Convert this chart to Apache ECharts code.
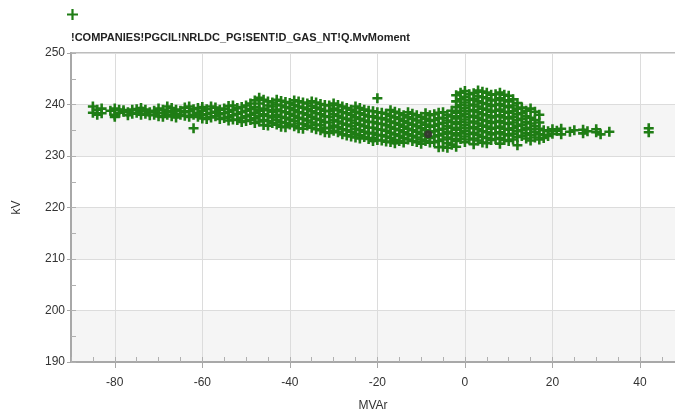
<!DOCTYPE html>
<html><head><meta charset="utf-8">
<script src="https://cdn.jsdelivr.net/npm/echarts@6/dist/echarts.min.js"></script>
<style>html,body{margin:0;padding:0;background:#fff}#c{width:675px;height:417px}</style>
</head><body><div id="c"></div>
<script>
const seriesName = '!COMPANIES!PGCIL!NRLDC_PG!SENT!D_GAS_NT!Q.MvMoment';
const xAxisName = 'MVAr';
const yAxisName = 'kV';
const yTicks = [190, 200, 210, 220, 230, 240, 250];
const xTicks = [-80, -60, -40, -20, 0, 20, 40];
// [MVAr, kV] samples (even columns)
const pointsA = [
[-85,239.6],[-85,238.4],[-84,239.0],[-84,238.0],[-81,238.8],[-80,239.2],[-80,238.0],[-80,237.6],
[-78,238.6],[-78,238.9],[-76,239.0],[-76,238.2],[-74,238.7],[-74,238.0],[-74,239.3],[-72,238.5],[-72,237.9],
[-70,239.2],[-70,238.4],[-70,237.7],[-68,239.6],[-68,238.7],[-68,238.0],[-66,239.0],[-66,238.2],[-66,237.5],
[-64,239.4],[-64,238.5],[-64,237.8],[-62,239.1],[-62,238.0],[-62,235.4],[-60,238.8],[-60,237.9],[-60,237.3],[-60,239.5],
[-58,239.6],[-58,238.4],[-58,237.5],[-56,239.0],[-56,238.1],[-56,237.2],[-54,239.7],[-54,238.6],[-54,237.6],[-54,236.9],
[-52,239.3],[-52,238.2],[-52,237.0],[-50,239.8],[-50,238.8],[-50,237.7],[-50,236.8],
[-48,240.8],[-48,239.5],[-48,238.4],[-48,237.3],[-48,236.4],[-47,241.3],[-47,240.2],
[-46,240.9],[-46,239.2],[-46,238.1],[-46,237.0],[-46,236.0],[-44,240.4],[-44,239.6],[-44,238.6],[-44,237.5],[-44,236.4],
[-42,240.7],[-42,239.8],[-42,238.7],[-42,237.6],[-42,236.6],[-42,235.7],[-40,240.3],[-40,239.3],[-40,238.2],[-40,237.1],[-40,236.1],
[-38,240.6],[-38,239.6],[-38,238.5],[-38,237.4],[-38,236.3],[-38,235.4],[-36,240.2],[-36,239.1],[-36,238.0],[-36,236.9],[-36,235.9],
[-34,240.4],[-34,239.4],[-34,238.3],[-34,237.2],[-34,236.1],[-34,235.2],[-32,239.9],[-32,238.8],[-32,237.7],[-32,236.6],[-32,235.5],[-32,234.6],
[-30,240.2],[-30,239.2],[-30,238.1],[-30,237.0],[-30,235.9],[-30,234.9],[-28,239.6],[-28,238.5],[-28,237.4],[-28,236.3],[-28,235.2],[-28,234.2],
[-26,239.0],[-26,238.0],[-26,236.9],[-26,235.8],[-26,234.7],[-26,233.8],[-24,239.3],[-24,238.3],[-24,237.2],[-24,236.1],[-24,235.0],[-24,234.0],[-24,233.4],
[-22,238.8],[-22,237.7],[-22,236.6],[-22,235.5],[-22,234.4],[-22,233.3],[-20,241.2],[-20,238.5],[-20,237.4],[-20,236.3],[-20,235.2],[-20,234.1],[-20,233.1],
[-18,238.2],[-18,237.1],[-18,236.0],[-18,234.9],[-18,233.8],[-18,232.8],[-16,238.6],[-16,237.5],[-16,236.4],[-16,235.3],[-16,234.2],[-16,233.1],[-16,232.5],
[-14,237.9],[-14,236.8],[-14,235.7],[-14,234.6],[-14,233.5],[-14,232.6],[-12,238.2],[-12,237.2],[-12,236.1],[-12,235.0],[-12,233.9],[-12,232.9],
[-10,237.6],[-10,236.5],[-10,235.4],[-10,234.3],[-10,233.2],[-10,232.4],[-8,237.9],[-8,236.8],[-8,235.7],[-8,234.6],[-8,233.5],[-8,232.6],
[-6,238.4],[-6,237.3],[-6,236.2],[-6,235.1],[-6,234.0],[-6,232.9],[-6,231.7],[-4,238.0],[-4,236.9],[-4,235.8],[-4,234.7],[-4,233.6],[-4,232.5],[-4,231.6],
[-2,241.8],[-2,240.6],[-2,239.5],[-2,238.4],[-2,237.3],[-2,236.2],[-2,235.1],[-2,234.0],[-2,232.9],[-2,231.8],
[-1,242.3],[-1,241.0],[-1,239.9],[-1,238.8],[-1,237.7],[-1,236.6],[-1,235.5],[-1,234.4],[-1,233.3],
[0,242.6],[0,241.5],[0,240.4],[0,239.3],[0,238.2],[0,237.1],[0,236.0],[0,234.9],[0,233.8],[0,232.7],
[2,242.2],[2,241.1],[2,240.0],[2,238.9],[2,237.8],[2,236.7],[2,235.6],[2,234.5],[2,233.4],[2,232.3],
[4,242.5],[4,241.4],[4,240.3],[4,239.2],[4,238.1],[4,237.0],[4,235.9],[4,234.8],[4,233.7],[4,232.6],
[6,241.9],[6,240.8],[6,239.7],[6,238.6],[6,237.5],[6,236.4],[6,235.3],[6,234.2],[6,233.1],
[8,242.3],[8,241.2],[8,240.1],[8,239.0],[8,237.9],[8,236.8],[8,235.7],[8,234.6],[8,233.5],[8,232.4],
[10,241.7],[10,240.6],[10,239.5],[10,238.4],[10,237.3],[10,236.2],[10,235.1],[10,234.0],[10,232.9],
[11,241.0],[11,239.8],[11,238.7],[11,237.6],[11,236.5],[11,235.4],[11,234.3],[11,233.2],
[12,240.3],[12,239.2],[12,238.1],[12,237.0],[12,235.9],[12,234.8],[12,233.7],[12,232.1],
[13,239.4],[13,238.3],[13,237.2],[13,236.1],[13,235.0],[13,233.9],[14,238.8],[14,237.7],[14,236.6],[14,235.5],[14,234.4],[14,233.4],
[15,239.2],[15,237.4],[15,236.3],[15,235.2],[15,234.1],[15,233.0],[16,238.6],[16,237.0],[16,235.8],[16,234.7],[16,233.6],
[17,238.0],[17,236.5],[17,235.3],[17,234.2],[17,233.2],[18,235.0],[18,234.1],[18,233.5],[19,234.8],[19,233.9],
[20,235.2],[20,234.3],[21,234.9],[22,235.3],[22,234.2],[24,234.7],[25,235.0],[27,235.1],[27,234.4],[28,234.8],
[30,234.6],[30,235.2],[31,234.2],[33,234.7],[42,235.4],[42,234.6]
];
// [MVAr, kV] samples (odd columns)
const pointsB = [
[-83,239.2],[-83,238.3],[-79,238.4],[-79,239.0],[-77,238.5],[-77,237.9],[-75,239.1],[-75,238.4],[-73,238.2],[-73,239.0],
[-71,238.8],[-71,238.0],[-69,239.0],[-69,238.3],[-69,237.6],[-67,239.3],[-67,238.5],[-67,237.7],[-65,238.8],[-65,238.0],
[-63,239.6],[-63,238.7],[-63,237.6],[-61,239.3],[-61,238.4],[-61,237.6],[-59,239.1],[-59,238.1],[-59,237.2],
[-57,239.4],[-57,238.6],[-57,237.7],[-55,239.2],[-55,238.3],[-55,237.4],[-53,239.8],[-53,238.9],[-53,237.9],[-53,237.1],
[-51,239.5],[-51,238.5],[-51,237.4],[-51,236.6],[-49,240.2],[-49,239.1],[-49,238.0],[-49,237.0],[-47,239.0],[-47,238.8],[-47,237.8],[-47,236.7],
[-45,240.6],[-45,239.8],[-45,238.9],[-45,237.8],[-45,236.8],[-45,235.9],[-43,240.9],[-43,240.0],[-43,239.0],[-43,238.0],[-43,237.0],[-43,236.1],
[-41,240.5],[-41,239.5],[-41,238.5],[-41,237.4],[-41,236.4],[-41,235.6],[-39,240.8],[-39,239.9],[-39,238.9],[-39,237.8],[-39,236.8],[-39,235.8],
[-37,240.4],[-37,239.4],[-37,238.3],[-37,237.2],[-37,236.2],[-37,235.3],[-35,240.6],[-35,239.7],[-35,238.7],[-35,237.6],[-35,236.5],[-35,235.5],
[-33,240.1],[-33,239.1],[-33,238.1],[-33,237.0],[-33,236.0],[-33,235.0],[-31,239.8],[-31,238.7],[-31,237.6],[-31,236.5],[-31,235.4],[-31,234.5],
[-29,239.9],[-29,238.9],[-29,237.8],[-29,236.7],[-29,235.6],[-29,234.6],[-27,239.3],[-27,238.3],[-27,237.2],[-27,236.1],[-27,235.0],[-27,234.0],
[-25,239.6],[-25,238.6],[-25,237.5],[-25,236.4],[-25,235.3],[-25,234.3],[-25,233.6],[-23,239.0],[-23,238.0],[-23,236.9],[-23,235.8],[-23,234.7],[-23,233.7],
[-21,238.7],[-21,237.7],[-21,236.6],[-21,235.5],[-21,234.5],[-21,233.5],[-21,232.9],[-19,238.4],[-19,237.3],[-19,236.2],[-19,235.1],[-19,234.0],[-19,233.0],
[-17,238.9],[-17,237.8],[-17,236.7],[-17,235.6],[-17,234.5],[-17,233.5],[-17,232.7],[-15,238.3],[-15,237.2],[-15,236.1],[-15,235.0],[-15,233.9],[-15,232.9],
[-13,238.5],[-13,237.5],[-13,236.4],[-13,235.3],[-13,234.2],[-13,233.2],[-11,237.9],[-11,236.9],[-11,235.8],[-11,234.7],[-11,233.6],[-11,232.7],
[-9,238.3],[-9,237.2],[-9,236.1],[-9,235.0],[-9,233.9],[-9,232.9],[-7,238.1],[-7,237.0],[-7,235.9],[-7,234.8],[-7,233.8],[-7,232.7],
[-5,238.5],[-5,237.4],[-5,236.4],[-5,235.3],[-5,234.3],[-5,233.2],[-5,231.8],[-3,238.8],[-3,237.7],[-3,236.6],[-3,235.5],[-3,234.4],[-3,233.3],[-3,232.2],
[1,242.0],[1,240.9],[1,239.8],[1,238.7],[1,237.6],[1,236.5],[1,235.4],[1,234.3],[1,233.2],
[3,242.7],[3,241.6],[3,240.6],[3,239.6],[3,238.5],[3,237.4],[3,236.3],[3,235.2],[3,234.1],[3,233.0],
[5,242.3],[5,241.2],[5,240.1],[5,239.0],[5,237.9],[5,236.8],[5,235.7],[5,234.6],[5,233.5],[5,232.5],
[7,242.0],[7,240.9],[7,239.9],[7,238.8],[7,237.7],[7,236.6],[7,235.5],[7,234.4],[7,233.3],
[9,241.9],[9,240.8],[9,239.7],[9,238.6],[9,237.5],[9,236.4],[9,235.3],[9,234.2],[9,233.1]
];
const highlight = [[-8.4, 234.2]];

const plus = 'path://M3.7,0h2.6v3.7h3.7v2.6h-3.7v3.7h-2.6v-3.7h-3.7v-2.6h3.7z';
const green = '#1f7d15';
const font = 'Liberation Sans, Arial, sans-serif';
const chart = echarts.init(document.getElementById('c'));
chart.setOption({
  animation: false,
  backgroundColor: '#fff',
  title: {
    text: seriesName, left: 66, top: 27,
    textStyle: {fontFamily: font, fontSize: 11, fontWeight: 'bold', color: '#222'}
  },
  legend: {
    left: 62, top: 4, itemWidth: 11, itemHeight: 11,
    icon: 'path://M4,0h2v4h4v2h-4v4h-2v-4h-4v-2h4z',
    data: [seriesName], formatter: () => '',
    itemStyle: {color: green}
  },
  grid: {left: 71, right: -1, top: 53, bottom: 55, show: true, borderColor: '#bdbdbd', borderWidth: 2, backgroundColor: 'transparent'},
  xAxis: [{
    type: 'value', min: -90, max: 48, splitNumber: 7,
    name: xAxisName, nameLocation: 'middle', nameGap: 38,
    nameTextStyle: {fontFamily: font, fontSize: 12, color: '#333'},
    axisLine: {onZero: false, lineStyle: {color: '#a8a8a8', width: 2}},
    axisTick: {show: true, length: 6, lineStyle: {color: '#a8a8a8'}},
    axisLabel: {showMinLabel: false, showMaxLabel: false, margin: 15, fontFamily: font, fontSize: 12, color: '#333',
      formatter: v => xTicks.includes(v) ? String(v) : ''},
    splitLine: {show: true, lineStyle: {color: '#dcdcdc', width: 1}}
  }, {
    type: 'value', min: -90, max: 48, interval: 5, position: 'bottom',
    axisLine: {show: false, onZero: false}, axisLabel: {show: false}, splitLine: {show: false},
    axisTick: {show: true, inside: true, length: 5, lineStyle: {color: '#b0b0b0'}}
  }],
  yAxis: [{
    type: 'value', min: 190, max: 250, interval: 10,
    name: yAxisName, nameLocation: 'middle', nameGap: 48, nameRotate: 90,
    nameTextStyle: {fontFamily: font, fontSize: 12, color: '#333'},
    axisLine: {show: true, onZero: false, lineStyle: {color: '#a8a8a8', width: 2}},
    axisTick: {show: true, length: 4, lineStyle: {color: '#a8a8a8'}},
    axisLabel: {margin: 6, fontFamily: font, fontSize: 12, color: '#333',
      formatter: v => yTicks.includes(v) ? String(v) : ''},
    splitLine: {show: true, lineStyle: {color: '#dcdcdc', width: 1}},
    splitArea: {show: true, areaStyle: {color: ['#f5f5f5', '#ffffff']}}
  }, {
    type: 'value', min: 190, max: 250, interval: 5, position: 'left',
    axisLine: {show: false, onZero: false}, axisLabel: {show: false}, splitLine: {show: false},
    axisTick: {show: true, inside: true, length: 5, lineStyle: {color: '#b0b0b0'}}
  }],
  series: [{
    name: seriesName, type: 'scatter', symbol: plus, symbolSize: 10,
    itemStyle: {color: green, opacity: 1},
    data: pointsA.concat(pointsB)
  }, {
    name: 'current', type: 'scatter', symbol: 'circle', symbolSize: 8,
    itemStyle: {color: '#3a2a35'}, z: 3,
    data: highlight
  }]
});
</script></body></html>
